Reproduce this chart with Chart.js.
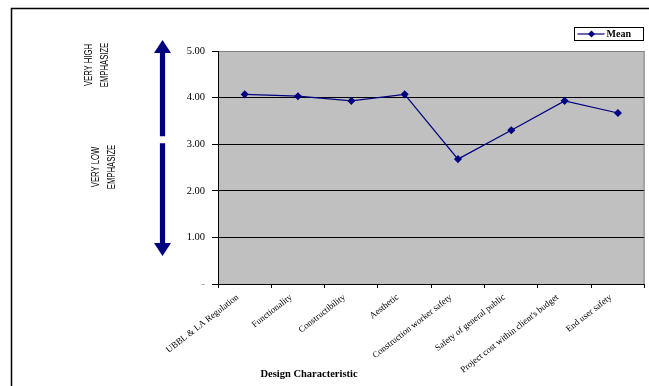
<!DOCTYPE html>
<html>
<head>
<meta charset="utf-8">
<script src="https://cdn.jsdelivr.net/npm/chart.js@4/dist/chart.umd.min.js"></script>
<style>
  html, body { margin: 0; padding: 0; background: #fff; }
  #wrap { width: 649px; height: 386px; position: relative; }
</style>
</head>
<body>
<div id="wrap"><canvas id="c" width="649" height="386"></canvas></div>
<script>
// Design characteristics rated on a 0–5 emphasis scale
const categories = [
  'UBBL & LA Regulation',
  'Functionality',
  'Constructibility',
  'Aesthetic',
  'Construction worker safety',
  'Safety of general public',
  "Project cost within client's budget",
  'End user safety'
];
const meanValues = [4.07, 4.03, 3.93, 4.07, 2.68, 3.30, 3.93, 3.67];
const yTicks = [0, 1, 2, 3, 4, 5];
const seriesName = 'Mean';
const xTitle = 'Design Characteristic';
const upperNote = ['VERY HIGH', 'EMPHASIZE'];
const lowerNote = ['VERY LOW', 'EMPHASIZE'];

const NAVY = '#000080';
const SERIF = '"Liberation Serif", "Times New Roman", serif';
const NARROW = '"Liberation Sans Narrow", "Arial Narrow", "Liberation Sans", sans-serif';

const decor = {
  id: 'decor',
  beforeDraw(chart) {
    const { ctx, chartArea: a } = chart;
    ctx.save();
    ctx.fillStyle = '#fff';
    ctx.fillRect(0, 0, chart.width, chart.height);
    ctx.fillStyle = '#C0C0C0';
    ctx.fillRect(a.left, a.top, a.right - a.left, a.bottom - a.top);
    ctx.restore();
  },
  beforeDatasetsDraw(chart) {
    const { ctx, chartArea: a } = chart;
    ctx.save();
    ctx.strokeStyle = '#808080';
    ctx.lineWidth = 1;
    ctx.beginPath();
    ctx.moveTo(a.right - 0.5, a.top);
    ctx.lineTo(a.right - 0.5, a.bottom);
    ctx.stroke();
    ctx.restore();
  },
  afterDraw(chart) {
    const { ctx } = chart;
    const y = chart.scales.y;
    ctx.save();

    // outer frame
    ctx.strokeStyle = '#000';
    ctx.lineWidth = 1.5;
    ctx.beginPath();
    ctx.moveTo(11.5, chart.height);
    ctx.lineTo(11.5, 8.5);
    ctx.lineTo(chart.width, 8.5);
    ctx.stroke();

    // double arrow beside the value axis
    const ax = 162.5;
    const topTip = y.getPixelForValue(5) - 11;
    const gapTop = y.getPixelForValue(3) - 8;
    const gapBot = y.getPixelForValue(3) - 1;
    const botTip = y.getPixelForValue(0.6);
    const headH = 13, headW = 8.5, shaft = 2.6;
    ctx.fillStyle = NAVY;
    ctx.beginPath();
    ctx.moveTo(ax, topTip);
    ctx.lineTo(ax + headW, topTip + headH);
    ctx.lineTo(ax + shaft, topTip + headH);
    ctx.lineTo(ax + shaft, gapTop);
    ctx.lineTo(ax - shaft, gapTop);
    ctx.lineTo(ax - shaft, topTip + headH);
    ctx.lineTo(ax - headW, topTip + headH);
    ctx.closePath();
    ctx.fill();
    ctx.beginPath();
    ctx.moveTo(ax, botTip);
    ctx.lineTo(ax + headW, botTip - headH);
    ctx.lineTo(ax + shaft, botTip - headH);
    ctx.lineTo(ax + shaft, gapBot);
    ctx.lineTo(ax - shaft, gapBot);
    ctx.lineTo(ax - shaft, botTip - headH);
    ctx.lineTo(ax - headW, botTip - headH);
    ctx.closePath();
    ctx.fill();

    // rotated notes, condensed along the text direction
    const note = (lines, cx, cy) => {
      ctx.save();
      ctx.translate(cx, cy);
      ctx.rotate(-Math.PI / 2);
      ctx.scale(0.7, 1);
      ctx.fillStyle = '#000';
      ctx.font = '11px ' + NARROW;
      ctx.textAlign = 'center';
      ctx.textBaseline = 'middle';
      ctx.fillText(lines[0], 0, -8);
      ctx.fillText(lines[1], 0, 8);
      ctx.restore();
    };
    note(upperNote, 97, 65);
    note(lowerNote, 104, 167);

    // legend
    const lx = 574.5, ly = 27.5, lw = 69, lh = 13;
    ctx.strokeStyle = '#000';
    ctx.lineWidth = 1;
    ctx.strokeRect(lx, ly, lw, lh);
    ctx.strokeStyle = NAVY;
    ctx.lineWidth = 1.2;
    ctx.beginPath();
    ctx.moveTo(lx + 3, ly + lh / 2);
    ctx.lineTo(lx + 30, ly + lh / 2);
    ctx.stroke();
    ctx.fillStyle = NAVY;
    const dx = lx + 17, dy = ly + lh / 2, r = 3.5;
    ctx.beginPath();
    ctx.moveTo(dx, dy - r); ctx.lineTo(dx + r, dy); ctx.lineTo(dx, dy + r); ctx.lineTo(dx - r, dy);
    ctx.closePath();
    ctx.fill();
    ctx.fillStyle = '#000';
    ctx.font = 'bold 10px ' + SERIF;
    ctx.textAlign = 'left';
    ctx.textBaseline = 'middle';
    ctx.fillText(seriesName, lx + 32, ly + lh / 2 + 0.5);

    // category axis title
    ctx.font = 'bold 10.5px ' + SERIF;
    ctx.textAlign = 'center';
    ctx.textBaseline = 'middle';
    ctx.fillText(xTitle, 309, 374);

    ctx.restore();
  }
};

new Chart(document.getElementById('c'), {
  type: 'line',
  plugins: [decor],
  data: {
    labels: categories,
    datasets: [{
      label: seriesName,
      data: meanValues,
      borderColor: NAVY,
      backgroundColor: NAVY,
      borderWidth: 1.2,
      pointStyle: 'rectRot',
      pointRadius: 3.2,
      pointHoverRadius: 3.2,
      pointBackgroundColor: NAVY,
      pointBorderColor: NAVY,
      tension: 0,
      fill: false
    }]
  },
  options: {
    responsive: false,
    animation: false,
    events: [],
    layout: { padding: { top: 51, right: 4, left: 0, bottom: 0 } },
    plugins: { legend: { display: false }, tooltip: { enabled: false } },
    scales: {
      x: {
        type: 'category',
        offset: true,
        afterFit(scale) { scale.height = 102; },
        grid: {
          offset: true,
          drawOnChartArea: false,
          tickLength: 4,
          tickColor: '#000',
          tickWidth: 1
        },
        border: { color: '#000', width: 1 },
        ticks: {
          autoSkip: false,
          minRotation: 38,
          maxRotation: 38,
          padding: 4,
          labelOffset: -7,
          color: '#000',
          font: { family: SERIF, size: 9 }
        }
      },
      y: {
        min: 0,
        max: 5,
        afterFit(scale) { scale.width = 218; },
        afterBuildTicks(scale) { scale.ticks = yTicks.map(v => ({ value: v })); },
        grid: {
          color: ctx => (ctx.tick && ctx.tick.value === 5 ? '#808080' : '#000'),
          lineWidth: 1,
          tickLength: 6,
          tickColor: '#000'
        },
        border: { color: '#000', width: 1 },
        ticks: {
          padding: 7,
          color: ctx => (ctx.tick && ctx.tick.value === 0 ? '#888' : '#000'),
          font: { family: SERIF, size: 10.5 },
          callback: v => (v === 0 ? '-' : Number(v).toFixed(2))
        }
      }
    }
  }
});
</script>
</body>
</html>
